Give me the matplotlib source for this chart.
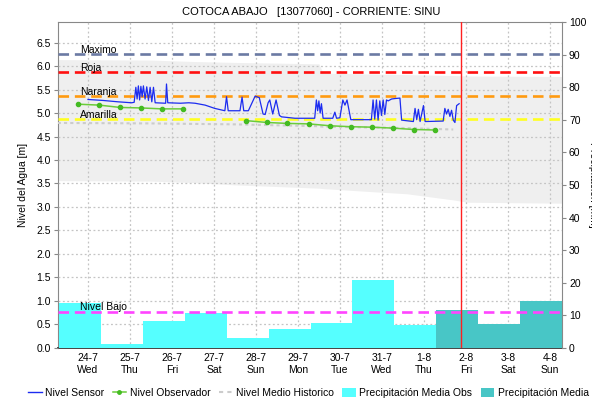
import numpy as np
import matplotlib
matplotlib.use("Agg")
import matplotlib.pyplot as plt
from matplotlib.lines import Line2D
from matplotlib.patches import Patch
import matplotlib.transforms as mtransforms

plt.rcParams['font.family'] = ['Liberation Sans', 'DejaVu Sans']

# ---------------- data ----------------
title = "COTOCA ABAJO   [13077060] - CORRIENTE: SINU"
day_labels = ["24-7\nWed", "25-7\nThu", "26-7\nFri", "27-7\nSat", "28-7\nSun", "29-7\nMon",
              "30-7\nTue", "31-7\nWed", "1-8\nThu", "2-8\nFri", "3-8\nSat", "4-8\nSun"]
day_pos = list(range(len(day_labels)))

# sensor level (days since 24-7 00:00, m)
sensor_t = [0.00, 0.35, 0.72, 1.04, 1.10,
            1.14, 1.17, 1.20, 1.23, 1.26, 1.29, 1.32, 1.36, 1.40, 1.44, 1.48, 1.52, 1.56, 1.60,
            1.85, 1.87, 1.90, 2.20, 2.40, 2.55, 2.79, 3.02, 3.26,
            3.30, 3.34, 3.62, 3.67, 3.71, 3.82, 3.98, 4.08, 4.17, 4.22, 4.29, 4.33, 4.40, 4.48,
            4.56, 4.61, 4.93,
            5.40, 5.44, 5.47, 5.50, 5.53, 5.56, 5.60, 5.83, 5.88, 5.92, 6.00, 6.07, 6.12, 6.17,
            6.26, 6.75,
            6.79, 6.83, 6.87, 6.91, 6.95, 6.99, 7.03, 7.07, 7.11, 7.15, 7.23, 7.31, 7.43, 7.47,
            7.75, 7.79, 7.83, 7.87, 7.91, 7.99, 8.03, 8.46, 8.50, 8.54, 8.58, 8.62, 8.66, 8.70,
            8.74, 8.78, 8.84]
sensor_v = [5.29, 5.27, 5.24, 5.22, 5.23,
            5.55, 5.30, 5.58, 5.28, 5.57, 5.35, 5.58, 5.30, 5.56, 5.27, 5.55, 5.24, 5.55, 5.22,
            5.21, 5.62, 5.22, 5.21, 5.22, 5.21, 5.17, 5.10, 5.05,
            5.35, 5.05, 5.05, 5.34, 5.05, 5.05, 5.36, 5.33, 4.98, 4.97, 5.22, 5.28, 4.98, 5.28,
            4.95, 4.92, 4.89,
            4.89, 5.28, 5.05, 5.26, 5.00, 5.20, 4.89, 4.89, 5.02, 4.89, 4.90, 5.28, 5.17, 5.28,
            4.86, 4.86,
            5.28, 4.87, 5.28, 4.85, 5.26, 4.95, 5.28, 4.97, 5.28, 5.26, 5.30, 5.31, 5.32, 4.85,
            4.82, 5.10, 4.86, 5.08, 4.82, 5.16, 4.82, 4.83, 5.10, 4.98, 5.08, 4.93, 5.06, 4.85,
            4.80, 5.16, 5.20]

# observer level
obs_t = [-0.245, 0.27, 0.77, 1.26, 1.76, 2.26, 3.00, 3.76, 4.26, 4.75, 5.26, 5.76, 6.26, 6.76, 7.26, 7.76, 8.26]
obs_v = [5.19, 5.17, 5.12, 5.11, 5.09, 5.09, np.nan, 4.84, 4.80, 4.78, 4.77, 4.73, 4.71, 4.70, 4.68, 4.65, 4.64]

# historic band
hist_t = [-0.72, 1.5, 2.5, 3.5, 5.5, 5.6, 7.6, 8.7, 9.05, 11.3]
hist_upper = [6.14, 6.13, 6.10, 6.08, 6.05, 5.85, 5.82, 5.80, 5.79, 5.78]
hist_lower = [3.56, 3.55, 3.52, 3.47, 3.40, 3.39, 3.28, 3.15, 3.10, 3.08]
# historic mean (visible part)
mean_t = [-0.72, 1.5, 2.5, 3.5, 5.5, 5.6, 7.6, 8.7]
mean_v = [4.79, 4.78, 4.77, 4.76, 4.72, 4.71, 4.68, 4.65]

# thresholds
thr_names = ["Maximo", "Roja", "Naranja", "Amarilla", "Nivel Bajo"]
thr_values = [6.25, 5.88, 5.37, 4.87, 0.77]
thr_colors = ["#6b7aa3", "#ff1010", "#ff9a10", "#ffff20", "#ff44ff"]

# precipitation (mm) per day, observed and forecast
precip_obs = [13.8, 1.1, 8.2, 10.6, 3.1, 5.8, 7.5, 20.8, 7.0]
precip_pro = [11.6, 7.3, 14.4]
now_day = 8.88

# ---------------- figure ----------------
fig = plt.figure(figsize=(5.92, 4.01), dpi=100)
ax = fig.add_axes([58/592, 1-347.7/401, 504/592, (347.7-22.3)/401])
ax2 = ax.twinx()
ax3 = ax.twinx()
ax.set_zorder(1)
ax2.set_zorder(2)
ax3.set_zorder(3)
ax2.patch.set_visible(False)
ax3.patch.set_visible(False)

xmin, xmax = -0.714, 11.29
ylim_l = (0, 6.935)
for a in (ax, ax3):
    a.set_ylim(*ylim_l)
ax2.set_ylim(0, 100)
ax.set_xlim(xmin, xmax)

# band
ax.fill_between(hist_t, hist_lower, hist_upper, color="#efefef", lw=0, zorder=0)
ax.set_yticks(np.arange(0, 6.51, 0.5))
ax.set_yticklabels([f"{v:.1f}" for v in np.arange(0, 6.51, 0.5)])
ax.set_xticks(day_pos)
ax.set_xticklabels(day_labels)
ax.grid(True, color="#c4c4c4", linestyle=(0, (1.5, 2)), linewidth=0.9, zorder=0.5)
ax.set_axisbelow(False)

# bars
n_obs = len(precip_obs)
obs_x = [d - 0.7 for d in day_pos[:n_obs]]
pro_x = [d - 0.7 for d in day_pos[n_obs:n_obs + len(precip_pro)]]
ax2.bar(obs_x, precip_obs, width=1.0, align="edge", color="#55ffff", lw=0)
ax2.bar(pro_x, precip_pro, width=1.0, align="edge", color="#48c6c6", lw=0)
ax2.set_yticks(np.arange(0, 101, 10))
ax2.set_xlim(xmin, xmax)

# lines
ax3.set_xlim(xmin, xmax)
ax3.plot(mean_t, mean_v, color="#cccccc", linestyle=(0, (1.5, 1.5)), lw=1.5)
trans = mtransforms.blended_transform_factory(ax3.transAxes, ax3.transData)
for name, v, c in zip(thr_names, thr_values, thr_colors):
    ax3.axhline(v, color=c, linestyle=(0, (4, 2.2)), lw=1.9)
    ax3.text(0.043, v + 0.025, name, transform=trans, fontsize=7.5, va="baseline", ha="left")
ax3.plot(sensor_t, sensor_v, color="#1c2cf0", lw=0.9)
ax3.plot(obs_t, obs_v, color="#6acc3a", lw=1.1, marker="o", markersize=3,
         markerfacecolor="#44bb22", markeredgecolor="#44bb22")
ax3.axvline(now_day, color="#ff2020", lw=1.0)
ax3.axis("off")

# spines / ticks
for s in ("top", "left"):
    ax.spines[s].set_color("#888888")
ax.spines["right"].set_visible(False)
ax.spines["bottom"].set_linestyle((0, (1, 1)))
ax.spines["bottom"].set_color("#444444")
ax.spines["bottom"].set_linewidth(1.4)
for s in ("top", "left", "bottom"):
    ax2.spines[s].set_visible(False)
ax2.spines["right"].set_color("#888888")
ax.tick_params(axis="y", labelsize=7.5, length=3, color="#888888", pad=2)
ax.tick_params(axis="x", labelsize=7.5, length=0, pad=4)
ax2.tick_params(axis="y", labelsize=7.5, length=3, color="#888888", pad=2)

ax.set_ylabel("Nivel del Agua [m]", fontsize=7.5, labelpad=6)
ax2.set_ylabel("Precipitación [mm]", fontsize=7.5, rotation=270, va="center")
ax2.yaxis.set_label_coords((593-58)/504, 0.50)

fig.text(0.5 * (190 + 432) / 592, 1 - 12/401, title, fontsize=8, ha="center", va="center")

handles = [
    Line2D([], [], color="#1c2cf0", lw=1),
    Line2D([], [], color="#6acc3a", lw=1.1, marker="o", markersize=2.5,
           markerfacecolor="#44bb22", markeredgecolor="#44bb22"),
    Line2D([], [], color="#cccccc", lw=1.5, linestyle=(0, (2, 2))),
    Patch(facecolor="#55ffff", edgecolor="none"),
    Patch(facecolor="#48c6c6", edgecolor="none"),
]
labels = ["Nivel Sensor", "Nivel Observador", "Nivel Medio Historico",
          "Precipitación Media Obs", "Precipitación Media Pronosticada"]
fig.legend(handles, labels, loc="lower left", bbox_to_anchor=(28/592, 3/401), ncol=5,
           frameon=False, fontsize=7.5, handlelength=1.3, handletextpad=0.35,
           columnspacing=0.8, borderpad=0, borderaxespad=0, handleheight=0.9)

fig.savefig("out.png", dpi=100)
